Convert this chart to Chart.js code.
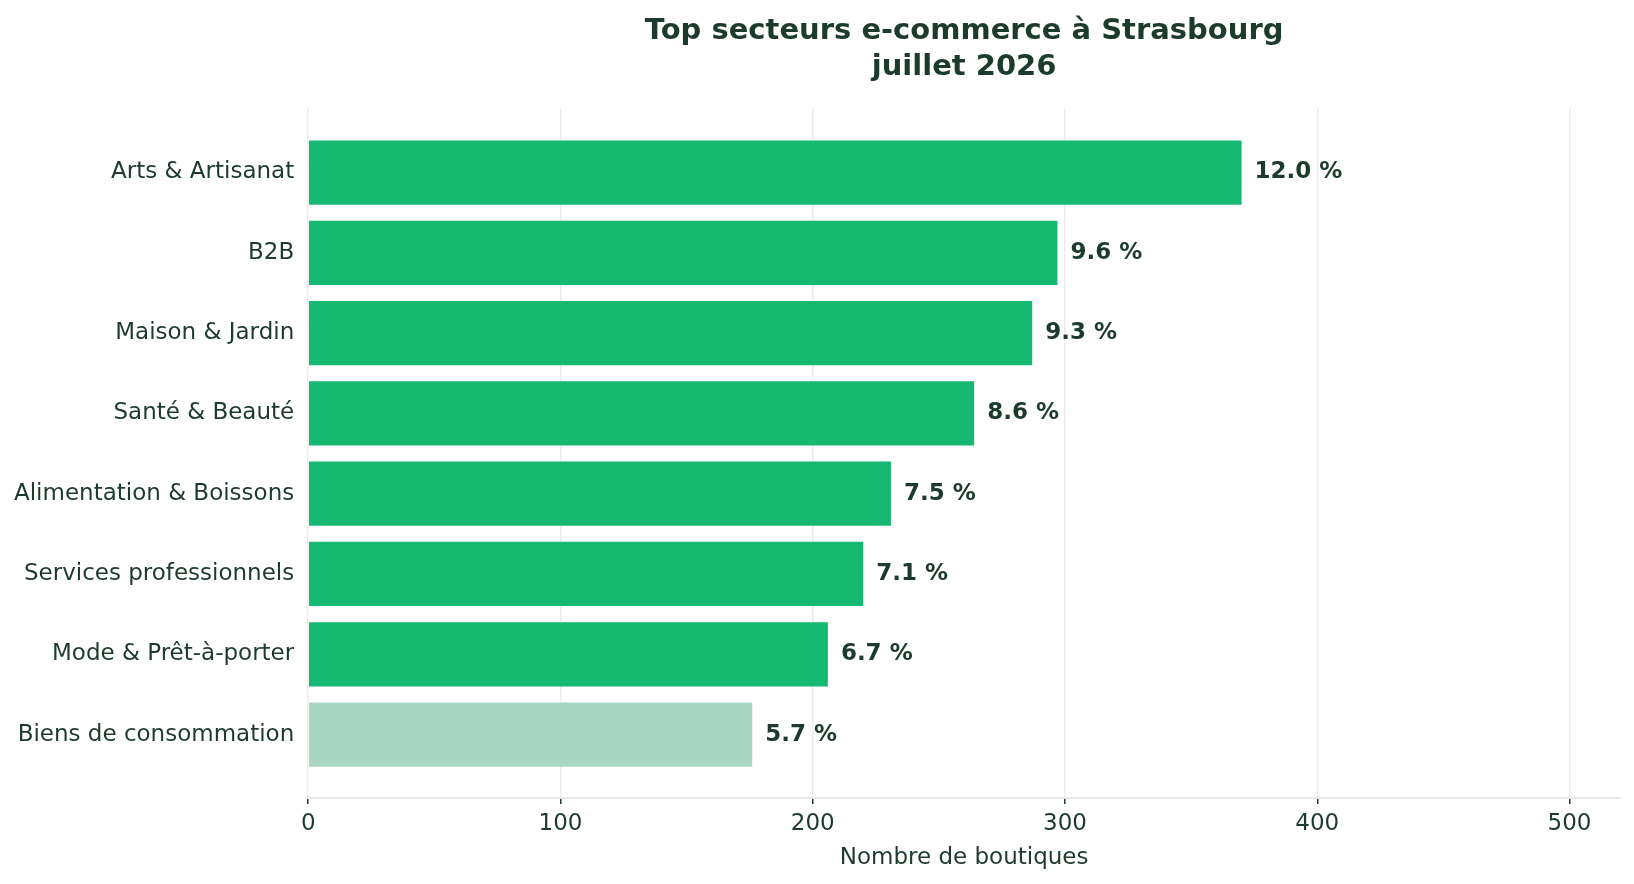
<!DOCTYPE html>
<html>
<head>
<meta charset="utf-8">
<script src="https://cdn.jsdelivr.net/npm/chart.js@4/dist/chart.umd.min.js"></script>
<style>
  body { margin: 0; background: #fff; }
  #wrap { width: 1634px; height: 884px; }
</style>
</head>
<body>
<div id="wrap"><canvas id="chart"></canvas></div>
<script>
const sectors = ['Arts & Artisanat', 'B2B', 'Maison & Jardin', 'Santé & Beauté',
    'Alimentation & Boissons', 'Services professionnels', 'Mode & Prêt-à-porter', 'Biens de consommation'];
const shopCounts = [370, 297, 287, 264, 231, 220, 206, 176];
const shares = ['12.0 %', '9.6 %', '9.3 %', '8.6 %', '7.5 %', '7.1 %', '6.7 %', '5.7 %'];
const xTicks = [0, 100, 200, 300, 400, 500];

const dark = '#1c3b2c';
const green = '#15b972';
const pale = '#a9d6c2';
const font = "'DejaVu Sans', sans-serif";

// value labels at the end of each bar
const shareLabels = {
    id: 'shareLabels',
    afterDatasetsDraw(chart) {
        const ctx = chart.ctx;
        const meta = chart.getDatasetMeta(0);
        ctx.save();
        ctx.font = 'bold 23px ' + font;
        ctx.fillStyle = dark;
        ctx.textBaseline = 'middle';
        meta.data.forEach((bar, i) => {
            ctx.fillText(shares[i], bar.x + 13, bar.y);
        });
        ctx.restore();
    }
};

const ctx = document.getElementById('chart').getContext('2d');
new Chart(ctx, {
    type: 'bar',
    data: {
        datasets: [{
            data: shopCounts.map((v, i) => ({ x: v, y: i })),
            backgroundColor: shopCounts.map((v, i) => i === shopCounts.length - 1 ? pale : green),
            borderWidth: 0,
            barPercentage: 0.8,
            categoryPercentage: 1
        }]
    },
    options: {
        indexAxis: 'y',
        responsive: true,
        maintainAspectRatio: false,
        animation: false,
        layout: { padding: { left: 0, right: 14, top: 13, bottom: 10 } },
        plugins: {
            legend: { display: false },
            tooltip: { enabled: false },
            title: {
                display: true,
                fullSize: false,
                text: ['Top secteurs e-commerce à Strasbourg', 'juillet 2026'],
                color: dark,
                font: { family: font, size: 29, weight: 'bold', lineHeight: 1.26 },
                padding: { top: 0, bottom: 23 }
            }
        },
        scales: {
            x: {
                type: 'linear',
                min: 0,
                max: 520,
                afterBuildTicks: axis => { axis.ticks = xTicks.map(v => ({ value: v })); },
                grid: {
                    color: '#ebeded',
                    lineWidth: 1.5,
                    tickColor: dark,
                    tickLength: 6
                },
                border: { display: true, color: '#e6e9e8', width: 2 },
                ticks: { color: dark, font: { family: font, size: 23, lineHeight: 1.0 }, padding: 9 },
                title: {
                    display: true,
                    text: 'Nombre de boutiques',
                    color: dark,
                    font: { family: font, size: 23, lineHeight: 1.0 },
                    padding: { top: 2 }
                }
            },
            y: {
                type: 'linear',
                reverse: true,
                offset: false,
                min: -0.79,
                max: 7.79,
                afterBuildTicks: axis => { axis.ticks = sectors.map((s, i) => ({ value: i })); },
                grid: { display: false, drawTicks: false },
                border: { display: false },
                ticks: {
                    color: dark,
                    font: { family: font, size: 23 },
                    padding: 14,
                    callback: v => sectors[v]
                }
            }
        }
    },
    plugins: [shareLabels]
});
</script>
</body>
</html>
